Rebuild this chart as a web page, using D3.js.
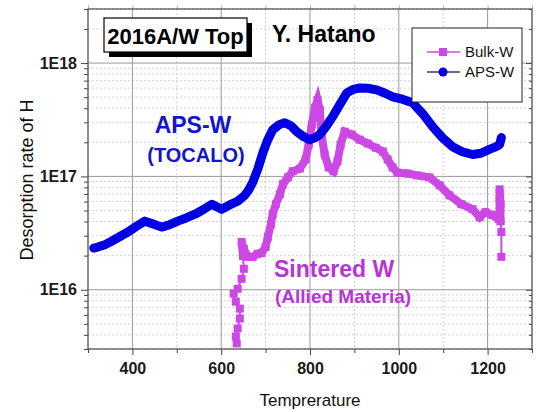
<!DOCTYPE html>
<html><head><meta charset="utf-8">
<script src="https://cdn.jsdelivr.net/npm/d3@7"></script>
<style>body{margin:0;background:#fff} svg{display:block;font-family:Arial,"Liberation Sans",sans-serif}</style>
</head><body><svg id="c" width="537" height="412"></svg>
<script>
// ---- data ----
const xTicks = [400, 600, 800, 1000, 1200];
const xMinor = [300, 500, 700, 900, 1100, 1300];
const yTicks = [1e16, 1e17, 1e18];
const yTickLabels = ["1E16", "1E17", "1E18"];
const seriesNames = ["Bulk-W", "APS-W"];

// APS-W (blue)
const apsT = [313, 322, 338, 354, 372, 390, 410, 428, 447, 466, 484, 502, 521, 541, 560, 579, 590, 601, 619, 637, 653, 662, 671, 682, 694, 705, 716, 730, 743, 757, 770, 785, 799, 812, 822, 836, 851, 867, 883, 897, 912, 930, 950, 968, 986, 1008, 1031, 1053, 1076, 1098, 1121, 1143, 1166, 1185, 1204, 1218, 1227, 1231];
const apsV = [2.33e16, 2.38e16, 2.5e16, 2.69e16, 2.95e16, 3.23e16, 3.65e16, 4.03e16, 3.8e16, 3.57e16, 3.75e16, 4.03e16, 4.3e16, 4.64e16, 5.1e16, 5.68e16, 5.4e16, 5.14e16, 5.6e16, 6.04e16, 6.8e16, 7.6e16, 8.85e16, 1.15e17, 1.62e17, 2.11e17, 2.58e17, 2.85e17, 2.98e17, 2.8e17, 2.48e17, 2.25e17, 2.11e17, 2.2e17, 2.34e17, 2.75e17, 3.36e17, 4.3e17, 5.46e17, 5.85e17, 6.04e17, 6.0e17, 5.8e17, 5.45e17, 5.04e17, 4.8e17, 4.46e17, 3.6e17, 2.75e17, 2.2e17, 1.83e17, 1.65e17, 1.56e17, 1.6e17, 1.73e17, 1.82e17, 1.91e17, 2.2e17];

// Bulk-W (magenta)
const bulkT = [635, 633, 637, 642, 642, 633, 628, 637, 646, 651, 649, 646, 651, 660, 671, 682, 691, 700, 705, 712, 716, 723, 732, 739, 750, 761, 777, 790, 797, 804, 811, 817, 822, 826, 833, 842, 853, 862, 869, 878, 894, 912, 930, 948, 964, 975, 986, 997, 1020, 1042, 1069, 1092, 1114, 1141, 1166, 1182, 1195, 1211, 1225, 1227, 1227, 1227, 1229, 1229, 1231, 1231];
const bulkV = [3.36e15, 3.87e15, 4.55e15, 5.57e15, 6.81e15, 7.85e15, 9.23e15, 1.02e16, 1.25e16, 1.53e16, 1.99e16, 2.64e16, 2.29e16, 1.95e16, 1.95e16, 2.07e16, 2.11e16, 2.38e16, 2.92e16, 3.79e16, 4.64e16, 5.68e16, 6.95e16, 8.51e16, 9.8e16, 1.11e17, 1.17e17, 1.41e17, 1.91e17, 2.86e17, 4.03e17, 4.73e17, 3.87e17, 2.34e17, 1.56e17, 1.2e17, 1.11e17, 1.36e17, 1.91e17, 2.48e17, 2.34e17, 2.11e17, 1.95e17, 1.79e17, 1.66e17, 1.41e17, 1.2e17, 1.08e17, 1.06e17, 1.02e17, 9.8e16, 8.34e16, 6.81e16, 5.68e16, 5.14e16, 4.37e16, 4.83e16, 4.55e16, 4.2e16, 4.93e16, 6.28e16, 7.69e16, 5.68e16, 4.03e16, 3.23e16, 1.95e16];

// ---- layout ----
const svg = d3.select("#c");
const L = 88, R = 532, T = 9, B = 349;
const x = d3.scaleLinear().domain([300, 1300]).range([L, R]);
const y = d3.scaleLog().domain([3e15, 3e18]).range([B, T]);

const yMinor = [];
for (let e = 15; e <= 18; e++) for (let m = 2; m <= 9; m++) { const v = m * Math.pow(10, e); if (v >= 3e15 && v <= 3e18) yMinor.push(v); }

const blue = "#0000e2", mag = "#cc48e4";

// grid
const g = svg.append("g");
g.selectAll(".hm").data(yMinor).join("line")
  .attr("x1", L).attr("x2", R).attr("y1", d => y(d)).attr("y2", d => y(d))
  .attr("stroke", "#c8c8c8").attr("stroke-width", 0.8).attr("stroke-dasharray", "2,2");
g.selectAll(".vm").data(xMinor).join("line")
  .attr("y1", T).attr("y2", B).attr("x1", d => x(d)).attr("x2", d => x(d))
  .attr("stroke", "#c8c8c8").attr("stroke-width", 0.8).attr("stroke-dasharray", "2,2");
g.selectAll(".hM").data(yTicks).join("line")
  .attr("x1", L).attr("x2", R).attr("y1", d => y(d)).attr("y2", d => y(d))
  .attr("stroke", "#9a9a9a").attr("stroke-width", 1);
g.selectAll(".vM").data(xTicks).join("line")
  .attr("y1", T).attr("y2", B).attr("x1", d => x(d)).attr("x2", d => x(d))
  .attr("stroke", "#9a9a9a").attr("stroke-width", 1);

// axes
svg.append("g").attr("transform", `translate(0,${B})`)
  .call(d3.axisBottom(x).tickValues(xTicks).tickSize(6).tickPadding(8).tickFormat(d3.format("d")));
svg.append("g").attr("transform", `translate(0,${B})`)
  .call(d3.axisBottom(x).tickValues(xMinor).tickSize(4).tickFormat(""));
svg.append("g").attr("transform", `translate(${L},0)`)
  .call(d3.axisLeft(y).tickValues(yTicks).tickSize(7).tickPadding(4).tickFormat((d, i) => yTickLabels[i]));
svg.append("g").attr("transform", `translate(${L},0)`)
  .call(d3.axisLeft(y).tickValues(yMinor).tickSize(4).tickFormat(""));
svg.append("g").attr("transform", `translate(${R},0)`)
  .call(d3.axisRight(y).tickValues(yMinor).tickSize(-3).tickFormat(""));
svg.append("g").attr("transform", `translate(${R},0)`)
  .call(d3.axisRight(y).tickValues(yTicks).tickSize(-6).tickFormat(""));
svg.append("g").attr("class", "topax").attr("transform", `translate(0,${T})`)
  .call(d3.axisTop(x).tickValues(xTicks.concat(xMinor)).tickSize(4).tickFormat(""));
svg.selectAll(".domain").remove();
svg.selectAll(".tick line").attr("stroke", "#444");
svg.selectAll(".topax .tick line").attr("stroke", "#bbb");
svg.selectAll(".tick text").attr("font-size", 16).attr("font-weight", "bold").attr("fill", "#1a1a1a")
  .attr("font-family", "Arial, 'Liberation Sans', sans-serif");

// frame
svg.append("rect").attr("x", L).attr("y", T).attr("width", R - L).attr("height", B - T)
  .attr("fill", "none").attr("stroke", "#555").attr("stroke-width", 1.3);

// series
const apsData = apsT.map((t, i) => [t, apsV[i]]);
const bulkData = bulkT.map((t, i) => [t, bulkV[i]]);
const line = d3.line().x(d => x(d[0])).y(d => y(d[1]));

svg.append("path").attr("d", line(bulkData)).attr("fill", "none").attr("stroke", mag).attr("stroke-width", 2);
svg.append("path").attr("d", line(bulkData.slice(10, 64))).attr("fill", "none")
  .attr("stroke", mag).attr("stroke-width", 8).attr("stroke-linejoin", "miter").attr("stroke-linecap", "square");
svg.selectAll(".sq").data(bulkData).join("rect")
  .attr("x", d => x(d[0]) - 4).attr("y", d => y(d[1]) - 4).attr("width", 8).attr("height", 8).attr("fill", mag);

svg.append("path").attr("d", line(apsData)).attr("fill", "none").attr("stroke", blue)
  .attr("stroke-width", 9).attr("stroke-linejoin", "round").attr("stroke-linecap", "round");

// axis titles
svg.append("text").attr("x", (L + R) / 2).attr("y", 406).attr("text-anchor", "middle")
  .attr("font-size", 17).attr("fill", "#111").text("Temprerature");
svg.append("text").attr("transform", "translate(33,180) rotate(-90)").attr("text-anchor", "middle")
  .attr("font-size", 18).attr("fill", "#111").text("Desorption rate of H");

// title box
svg.append("rect").attr("x", 109).attr("y", 23).attr("width", 143).attr("height", 34).attr("fill", "#000");
svg.append("rect").attr("x", 104).attr("y", 18).attr("width", 143).attr("height", 34).attr("fill", "#fff").attr("stroke", "#000").attr("stroke-width", 1.2);
svg.append("text").attr("x", 175.5).attr("y", 44).attr("text-anchor", "middle").attr("font-size", 22)
  .attr("font-weight", "bold").attr("fill", "#000").text("2016A/W Top");
svg.append("text").attr("x", 272).attr("y", 42).attr("font-size", 23)
  .attr("font-weight", "bold").attr("fill", "#000").text("Y. Hatano");

// annotations
svg.append("text").attr("x", 193).attr("y", 133).attr("text-anchor", "middle").attr("font-size", 23)
  .attr("font-weight", "bold").attr("fill", "#1414c8").text("APS-W");
svg.append("text").attr("x", 196).attr("y", 162).attr("text-anchor", "middle").attr("font-size", 20)
  .attr("font-weight", "bold").attr("fill", "#1414c8").text("(TOCALO)");
svg.append("text").attr("x", 274).attr("y", 277).attr("font-size", 23)
  .attr("font-weight", "bold").attr("fill", "#b734d6").text("Sintered W");
svg.append("text").attr("x", 275).attr("y", 303).attr("font-size", 19)
  .attr("font-weight", "bold").attr("fill", "#b734d6").text("(Allied Materia)");

// legend
svg.append("rect").attr("x", 412).attr("y", 28).attr("width", 110).attr("height", 74)
  .attr("fill", "#fff").attr("stroke", "#222").attr("stroke-width", 1);
const lg = svg.append("g");
lg.append("line").attr("x1", 427).attr("x2", 460).attr("y1", 52).attr("y2", 52).attr("stroke", mag).attr("stroke-width", 1.5);
lg.append("rect").attr("x", 439).attr("y", 48).attr("width", 8).attr("height", 8).attr("fill", mag);
lg.append("line").attr("x1", 427).attr("x2", 460).attr("y1", 72).attr("y2", 72).attr("stroke", "#3a3a70").attr("stroke-width", 1.5);
lg.append("circle").attr("cx", 443).attr("cy", 72).attr("r", 4.5).attr("fill", blue);
lg.append("text").attr("x", 465).attr("y", 57).attr("font-size", 15).attr("fill", "#111").text(seriesNames[0]);
lg.append("text").attr("x", 465).attr("y", 77).attr("font-size", 15).attr("fill", "#111").text(seriesNames[1]);
</script></body></html>
